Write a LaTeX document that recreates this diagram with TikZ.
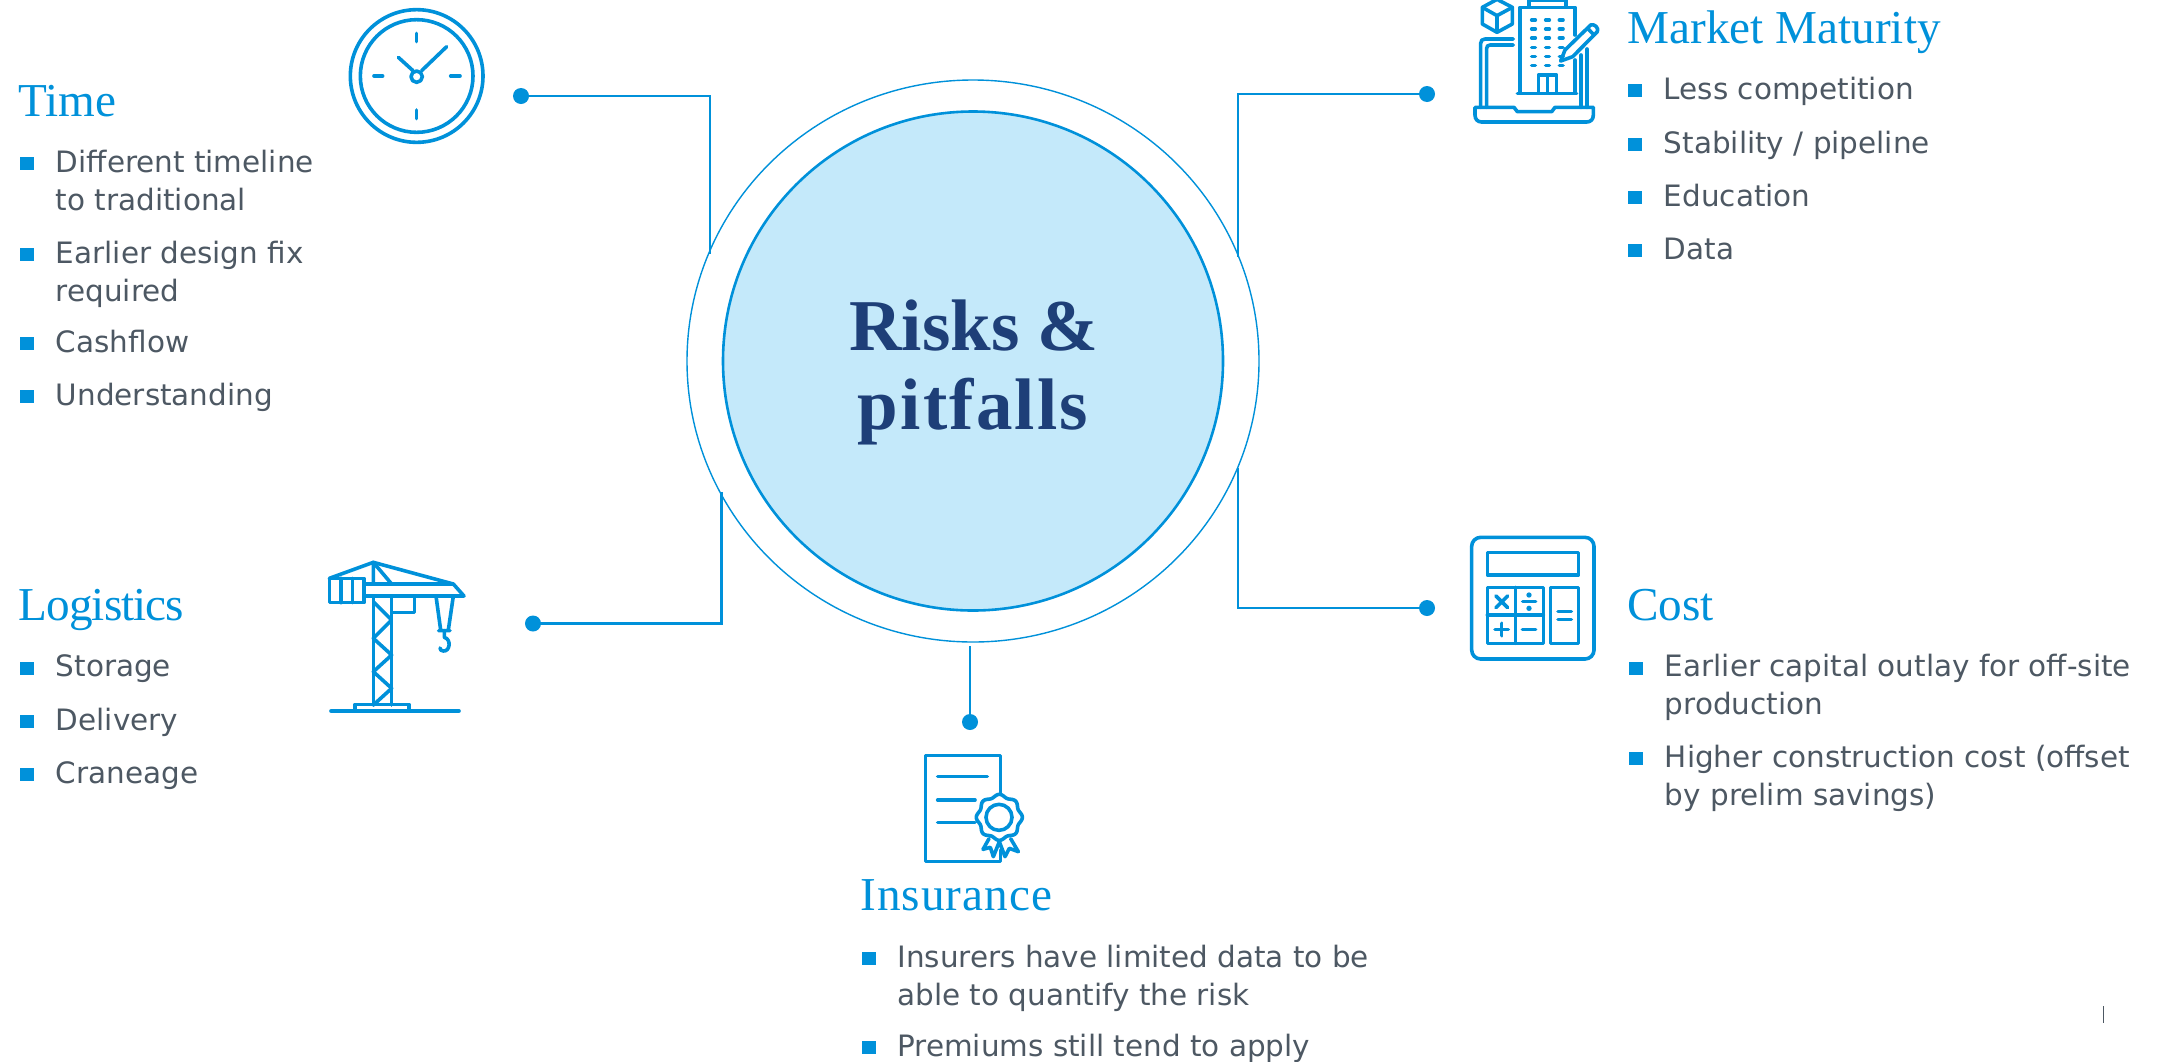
\documentclass[tikz,border=0pt]{standalone}
\usepackage{fontspec}
\usetikzlibrary{shapes.geometric}
\setmainfont{DejaVu Sans}
\newfontfamily\headfont{Liberation Serif}
\definecolor{kblue}{HTML}{0091DA}
\definecolor{kfill}{HTML}{C4E9FA}
\definecolor{knavy}{HTML}{1E3F78}
\definecolor{kgray}{HTML}{4D5863}
\tikzset{
  heading/.style={anchor=base west,inner sep=0pt,text=kblue,font=\headfont\fontsize{23.6}{28}\selectfont},
  bodytext/.style={anchor=north west,inner sep=0pt,align=left,text=kgray,font=\fontsize{14.72}{19}\selectfont},
  titletext/.style={anchor=base,inner sep=0pt,text=knavy,font=\headfont\bfseries\fontsize{36.5}{40}\selectfont},
  conn/.style={draw=kblue,line width=1.35pt},
  dotnode/.style={circle,fill=kblue,inner sep=0pt,minimum size=8pt},
  icon/.style={draw=kblue,line width=1.8pt,line join=round,line cap=round},
  bulletbox/.style={fill=kblue},
  zoomed/.style={shift={#1},scale=1/3}
}
% name, x of bullet, x of text, baseline y, text
\newcommand{\bulletitem}[5]{%
  \fill[bulletbox] (#2,#4-15) rectangle (#2+14,#4-1.7);
  \node[bodytext] (#1) at (#3,#4-25) {\rule{0pt}{12.5pt}#5};
}
\begin{document}
\begin{tikzpicture}[x=0.5pt,y=-0.5pt]
\clip (0,0) rectangle (2162,1061);
\fill[white] (0,0) rectangle (2162,1061);

% central circles
\node[ellipse,draw=kblue,line width=0.7pt,minimum width=286pt,minimum height=281pt,inner sep=0pt] (outer) at (973,361) {};
\node[ellipse,draw=kblue,fill=kfill,line width=1.3pt,minimum width=250pt,minimum height=249.5pt,inner sep=0pt] (inner) at (973,361) {};
\node[titletext] (t1) at (974,350) {Risks \&};
\node[titletext] (t2) at (973,429) {\addfontfeature{LetterSpace=3}pitfalls};

% connectors
\node[dotnode] (dA) at (521,96) {};
\coordinate (eA) at (710,254);
\draw[conn] (dA.center) -| (eA);
\node[dotnode] (dB) at (533,623.5) {};
\coordinate (eB) at (721.5,492);
\draw[conn] (dB.center) -| (eB);
\node[dotnode] (dC) at (1427,94) {};
\coordinate (eC) at (1238,257);
\draw[conn] (dC.center) -| (eC);
\node[dotnode] (dD) at (1427,608) {};
\coordinate (eD) at (1238,468);
\draw[conn] (dD.center) -| (eD);
\node[dotnode] (dE) at (970,722) {};
\coordinate (eE) at (970,646);
\draw[conn] (dE.center) -- (eE);

% clock
\begin{scope}[zoomed={(300,0)}]
\draw[icon] (350,228) circle (199);
\draw[icon] (350,228) circle (169);
\draw[icon] (350,100)--(350,125) (350,330)--(350,356) (222,228)--(248,228) (452,228)--(480,228);
\draw[icon] (350,230) circle (17);
\draw[icon] (339,212)--(295,172) (365,212)--(440,140);
\end{scope}

% building and laptop
\begin{scope}[zoomed={(1440,0)}]
\draw[icon] (171,-2)--(217,22)--(217,72)--(171,97)--(127,72)--(127,22)--cycle;
\draw[icon] (127,22)--(171,47)--(217,22) (171,47)--(171,97);
\draw[icon] (267,18)--(267,0)--(378,0)--(378,18);
\draw[icon] (240,278)--(240,22)--(405,22)--(405,105) (405,180)--(405,278);
\draw[icon] (232,280)--(410,280);
\draw[icon] (295,278)--(295,225)--(350,225)--(350,278) (322,225)--(322,278);
\foreach \yy in {60,87,114,142,169,197}{
  \draw[icon] (275,\yy)--(286,\yy) (317,\yy)--(328,\yy) (358,\yy)--(369,\yy);
}
\draw[icon] (362,183)--(375,150)--(452,75) .. controls (462,70) and (478,84) .. (472,95)--(398,170)--cycle;
\draw[icon] (443,85)--(460,103);
\draw[icon] (220,117)--(135,117) .. controls (127,117) and (122,122) .. (122,130)--(122,322);
\draw[icon] (220,135)--(150,135) .. controls (144,135) and (140,139) .. (140,145)--(140,322);
\draw[icon] (441,147)--(441,322) (423,165)--(423,322);
\draw[icon] (105,322)--(222,322)--(232,335)--(335,335)--(345,322)--(460,322)--(460,345) .. controls (460,358) and (452,366) .. (440,366)--(125,366) .. controls (113,366) and (105,358) .. (105,345)--cycle;
\end{scope}

% crane
\begin{scope}[zoomed={(310,550)}]
\draw[icon] (58,85) rectangle (162,158);
\draw[icon] (93,85)--(93,158) (127,85)--(127,158);
\draw[icon] (162,102)--(430,102)--(462,138)--(162,138);
\draw[icon] (58,85)--(190,37)--(430,102);
\draw[icon] (190,37)--(190,102) (190,37)--(245,102);
\draw[icon] (190,138)--(190,465) (245,138)--(245,465);
\draw[icon] (190,155)--(245,210)--(190,265)--(245,315)--(190,365)--(245,415)--(190,465);
\draw[icon] (313,138)--(313,188)--(245,188);
\draw[icon] (135,480)--(135,463)--(297,463)--(297,480);
\draw[icon] (63,483)--(447,483);
\draw[icon] (378,138)--(392,240) (430,138)--(415,240) (386,242)--(420,242);
\draw[icon] (403,242)--(403,262) .. controls (425,268) and (420,305) .. (400,303) .. controls (394,303) and (390,299) .. (390,294);
\end{scope}

% calculator
\begin{scope}[zoomed={(1450,525)}]
\draw[icon] (65,37) [rounded corners=4.5pt] rectangle (432,402);
\draw[icon] (112,83) rectangle (385,150);
\draw[icon] (112,187) rectangle (280,355);
\draw[icon] (196,187)--(196,355) (112,270)--(280,270);
\draw[icon] (302,187) rectangle (385,355);
\draw[icon] (324,260)--(364,260) (324,283)--(364,283);
\draw[icon] (138,213)--(173,248) (173,213)--(138,248);
\draw[icon] (218,230)--(257,230);
\fill[kblue] (237,210) circle (8) (237,250) circle (8);
\draw[icon] (135,313)--(175,313) (155,295)--(155,332);
\draw[icon] (217,313)--(257,313);
\end{scope}

% certificate
\begin{scope}[zoomed={(910,740)}]
\draw[icon] (272,165)--(272,47)--(47,47)--(47,365)--(272,365)--(272,330);
\draw[icon] (83,110)--(232,110) (83,180)--(195,180) (83,248)--(195,248);
\draw[icon,fill=white] plot[domain=0:360,samples=145,smooth] ({268+(65+4*cos(8*\x))*cos(\x)},{232+(65+4*cos(8*\x))*sin(\x)});
\draw[icon] (267,232) circle (39);
\draw[icon] (237,296)--(219,328)--(241,322)--(250,350)--(268,305)--(285,350)--(298,325)--(325,335)--(302,296);
\end{scope}

% Time
\node[heading] (hTime) at (18,116.5) {Time};
\bulletitem{iT1}{20}{55.5}{171.7}{Different timeline\\to traditional}
\bulletitem{iT2}{20}{55.5}{262.7}{Earlier design fix\\required}
\bulletitem{iT3}{20}{55.5}{352}{Cashflow}
\bulletitem{iT4}{20}{55.5}{405}{Understanding}

% Logistics
\node[heading] (hLog) at (18,620.5) {\addfontfeature{LetterSpace=-1.9}Logistics};
\bulletitem{iL1}{20}{55.5}{676.5}{Storage}
\bulletitem{iL2}{20}{55.5}{730}{Delivery}
\bulletitem{iL3}{20}{55.5}{783}{Craneage}

% Market Maturity
\node[heading] (hMar) at (1627,43.5) {Market Maturity};
\bulletitem{iM1}{1628}{1663.5}{98.6}{Less competition}
\bulletitem{iM2}{1628}{1663.5}{153}{Stability / pipeline}
\bulletitem{iM3}{1628}{1663.5}{206}{Education}
\bulletitem{iM4}{1628}{1663.5}{258.6}{Data}

% Cost
\node[heading] (hCos) at (1627,620.5) {Cost};
\bulletitem{iC1}{1629}{1664.5}{676.5}{Earlier capital outlay for off-site\\production}
\bulletitem{iC2}{1629}{1664.5}{767}{Higher construction cost (offset\\by prelim savings)}

% Insurance
\node[heading] (hIns) at (860,910.5) {\addfontfeature{LetterSpace=2.2}Insurance};
\bulletitem{iI1}{862}{897}{966.7}{Insurers have limited data to be\\able to quantify the risk}
\bulletitem{iI2}{862}{897}{1055.7}{Premiums still tend to apply}

% page mark
\coordinate (pmA) at (2103,1006);
\coordinate (pmB) at (2103,1023);
\draw[draw=kgray,line width=0.5pt] (pmA) -- (pmB);
\end{tikzpicture}
\end{document}
